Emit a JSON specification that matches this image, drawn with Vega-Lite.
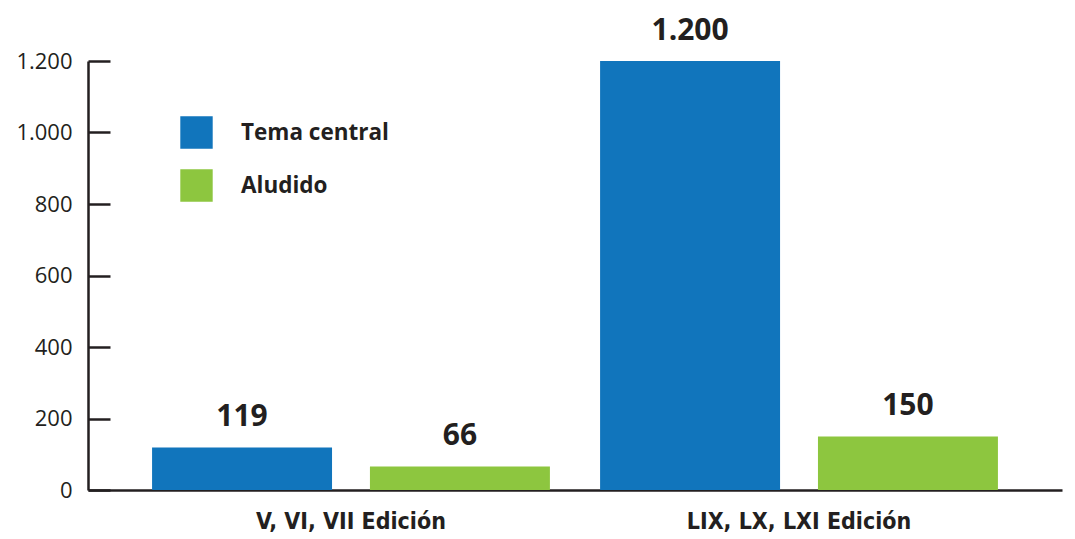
{
  "$schema": "https://vega.github.io/schema/vega-lite/v6.json",
  "autosize": "none",
  "width": 974,
  "height": 429,
  "padding": {"left": 88, "top": 61, "right": 13, "bottom": 49},
  "config": {
    "locale": {"number": {"decimal": ",", "thousands": ".", "grouping": [3], "currency": ["", " €"]}},
    "view": {"stroke": null},
    "font": "'Open Sans', sans-serif"
  },
  "data": {
    "values": [
      {"edicion": "V, VI, VII Edición", "tipo": "Tema central", "valor": 119},
      {"edicion": "V, VI, VII Edición", "tipo": "Aludido", "valor": 66},
      {"edicion": "LIX, LX, LXI Edición", "tipo": "Tema central", "valor": 1200},
      {"edicion": "LIX, LX, LXI Edición", "tipo": "Aludido", "valor": 150}
    ]
  },
  "encoding": {
    "x": {
      "field": "edicion", "type": "nominal", "sort": null,
      "scale": {"paddingInner": 0.112, "paddingOuter": 0.143},
      "axis": {
        "title": null, "labelAngle": 0, "ticks": false, "labelLimit": 0,
        "domainColor": "#231f20", "domainWidth": 2.5,
        "labelFont": "'DejaVu Sans Condensed', 'Liberation Sans Narrow', 'Open Sans', sans-serif", "labelFontWeight": "bold", "labelFontSize": 23,
        "labelColor": "#231f20", "labelPadding": 20
      }
    },
    "xOffset": {
      "field": "tipo", "type": "nominal", "sort": ["Tema central", "Aludido"],
      "scale": {"paddingInner": 0.174, "paddingOuter": 0}
    },
    "y": {
      "field": "valor", "type": "quantitative",
      "scale": {"domain": [0, 1200], "nice": false},
      "axis": {
        "title": null, "values": [0, 200, 400, 600, 800, 1000, 1200], "format": ",d",
        "grid": false, "domainColor": "#231f20", "domainWidth": 2.5,
        "tickColor": "#231f20", "tickWidth": 2.5, "tickSize": -22,
        "labelFontSize": 22, "labelColor": "#231f20", "labelPadding": 38,
        "labelFont": "'Open Sans', sans-serif"
      }
    }
  },
  "layer": [
    {
      "mark": {"type": "bar"},
      "encoding": {
        "color": {
          "field": "tipo", "type": "nominal", "sort": ["Tema central", "Aludido"],
          "scale": {"domain": ["Tema central", "Aludido"], "range": ["#1175bc", "#8dc63f"]},
          "legend": {
            "title": null, "orient": "none", "legendX": 92, "legendY": 55,
            "symbolType": "square", "symbolSize": 1050, "symbolStrokeWidth": 0,
            "labelFont": "'Open Sans', sans-serif", "labelFontWeight": "bold", "labelFontSize": 22.5,
            "labelColor": "#231f20", "labelOffset": 28, "rowPadding": 20
          }
        }
      }
    },
    {
      "mark": {"type": "text", "baseline": "bottom", "dy": -15, "fontSize": 30, "fontWeight": "bold", "font": "'Open Sans', sans-serif", "color": "#231f20"},
      "encoding": {
        "text": {"field": "valor", "type": "quantitative", "format": ",d"}
      }
    }
  ]
}
